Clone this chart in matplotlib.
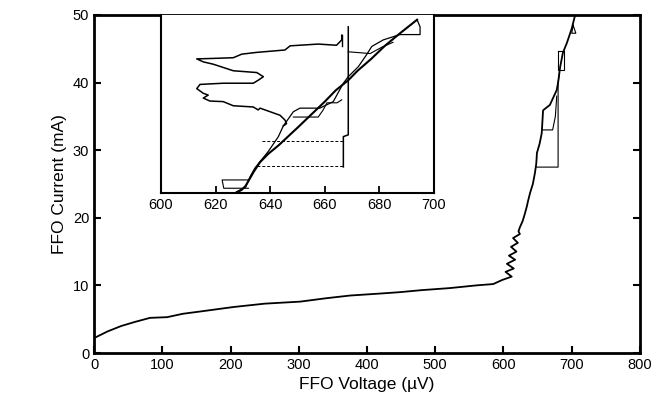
import numpy as np
import matplotlib.pyplot as plt

plt.rcParams['font.family'] = ['Liberation Sans', 'DejaVu Sans']

# main I-V curve (voltage in uV, current in mA)
v_main = [0, 20, 40, 60, 82, 107, 130, 160, 204, 250, 302, 340, 375, 420, 448,
          480, 521, 560, 585, 598, 612, 603, 615, 605, 617, 608, 619, 611, 621,
          614, 624, 622, 624, 628, 631, 634, 636, 639, 643, 646, 648, 649,
          653, 656, 658, 668, 678, 680, 683, 687, 693, 700, 705]
i_main = [2.2, 3.2, 4.0, 4.6, 5.2, 5.3, 5.8, 6.2, 6.8, 7.3, 7.6, 8.1, 8.5, 8.8, 9.0,
          9.3, 9.6, 10.0, 10.2, 10.8, 11.3, 12.0, 12.5, 13.2, 13.8, 14.4, 15.0, 15.7, 16.3,
          17.0, 17.6, 18.0, 18.6, 19.5, 20.5, 21.6, 22.5, 23.7, 25.0, 26.6, 28.0, 29.6,
          31.0, 32.5, 35.9, 36.7, 38.9, 40.0, 42.3, 44.4, 45.9, 48.0, 50.0]

# secondary branches in main plot
v_step = [648, 680, 680, 682]
i_step = [27.5, 27.5, 40.0, 41.5]
v_box = [680, 688, 688, 680, 680]
i_box = [44.6, 44.6, 41.9, 41.9, 44.6]
v_tri = [702, 706, 700, 702]
i_tri = [48.5, 47.3, 47.3, 48.5]
v_s2 = [656, 672, 676, 678]
i_s2 = [33.0, 33.0, 35.0, 38.0]

# inset traces
v_diag = [627.7, 629.5, 631, 632.5, 634, 636.3, 639.3, 643.0, 646.5, 650, 655, 660,
          664, 668.6, 672, 677, 682, 687.5, 693.8]
i_diag = [20.1, 20.5, 21.2, 22.4, 23.6, 25.2, 26.6, 28.0, 29.5, 31.0, 33.2, 35.4,
          37.3, 39.0, 40.6, 42.6, 44.8, 46.9, 49.2]
v_step_in = [627.7, 631, 632.6, 634.4, 636.3, 639.3, 643.0, 644.8, 648.5, 650.9,
             658.2, 663.1, 666.8, 668.6, 672.3, 675.3, 677.2, 681.4, 687.5, 694.9,
             694.9, 693.8]
i_step_in = [20.2, 21.0, 22.7, 24.2, 25.3, 27.0, 29.5, 31.3, 33.7, 34.3,
             34.3, 35.4, 38.5, 39.6, 41.3, 43.3, 44.7, 45.8, 46.7, 46.7,
             48.0, 49.2]
v_back = [644.8, 646.0, 645.4, 643.6, 636.3, 635.6, 633.8, 626.5, 622.8, 617.9,
          615.5, 617.3, 615.5, 613.1, 614.3, 622.8, 633.8, 635.6, 637.5, 635.1,
          626.5, 619.2, 615.5, 613.1, 620.4, 626.5, 629.6, 635.1, 645.4, 647.3,
          657.6, 664.3, 666.2, 666.2]
i_back = [31.3, 31.7, 32.3, 33.1, 34.3, 34.0, 34.5, 34.7, 35.4, 35.5,
          36.0, 36.5, 36.8, 37.6, 38.3, 38.5, 38.5, 39.0, 39.6, 40.3,
          40.6, 41.7, 42.1, 42.6, 42.7, 42.8, 43.4, 43.7, 44.1, 44.8,
          45.1, 44.9, 45.8, 46.6]
v_bar = [668.6, 668.6, 666.8, 666.8]
i_bar = [48.0, 29.8, 29.5, 24.4]
v_dash1 = [636.9, 666.8]
i_dash1 = [28.8, 28.8]
v_dash2 = [635.1, 666.8]
i_dash2 = [24.5, 24.5]
v_dash3 = [648.5, 657.6, 659.4, 660.8, 664.5, 666.2]
i_dash3 = [32.8, 32.8, 34.0, 35.2, 35.2, 35.7]
v_box_in = [632.0, 622.4, 623.0, 632.0]
i_box_in = [22.2, 22.2, 20.8, 20.8]
v_top = [668.6, 676.6, 681.0, 685.0]
i_top = [43.8, 43.5, 44.6, 45.4]

fig = plt.figure(figsize=(6.63, 4.2), dpi=100)
ax = fig.add_axes([0.1418, 0.1595, 0.8235, 0.8048])
ax.plot(v_main, i_main, color='black', lw=1.3)
ax.plot(v_step, i_step, color='black', lw=0.8)
ax.plot(v_box, i_box, color='black', lw=0.8)
ax.plot(v_tri, i_tri, color='black', lw=0.8)
ax.plot(v_s2, i_s2, color='black', lw=0.8)
ax.set_xlim(0, 800)
ax.set_ylim(0, 50)
ax.set_xticks(np.arange(0, 801, 100))
ax.set_yticks(np.arange(0, 51, 10))
ax.tick_params(direction='in', length=5, width=1.5, labelsize=10.5, right=True)
for s in ax.spines.values():
    s.set_linewidth(2)
ax.set_xlabel('FFO Voltage (µV)', fontsize=12.5)
ax.set_ylabel('FFO Current (mA)', fontsize=12.5)

ins = fig.add_axes([0.2428, 0.5405, 0.4118, 0.4238])
ins.plot(v_diag, i_diag, color='black', lw=1.5)
ins.plot(v_step_in, i_step_in, color='black', lw=0.9)
ins.plot(v_back, i_back, color='black', lw=1.1)
ins.plot(v_bar, i_bar, color='black', lw=1.1)
ins.plot(v_dash1, i_dash1, color='black', lw=0.7, ls=(0, (3, 2)))
ins.plot(v_dash2, i_dash2, color='black', lw=0.7, ls=(0, (3, 2)))
ins.plot(v_dash3, i_dash3, color='black', lw=0.8)
ins.plot(v_box_in, i_box_in, color='black', lw=0.8)
ins.plot(v_top, i_top, color='black', lw=0.8)
ins.plot([666.2, 666.2], [44.7, 46.6], color='black', lw=1.0)
ins.set_xlim(600, 700)
ins.set_ylim(20, 50)
ins.set_xticks(np.arange(600, 701, 20))
ins.set_yticks([])
ins.tick_params(direction='in', length=5, width=1.3, labelsize=10.5)
ins.spines['top'].set_visible(False)
for s in ['left', 'right', 'bottom']:
    ins.spines[s].set_linewidth(1.5)

fig.savefig('out.png', dpi=100)
